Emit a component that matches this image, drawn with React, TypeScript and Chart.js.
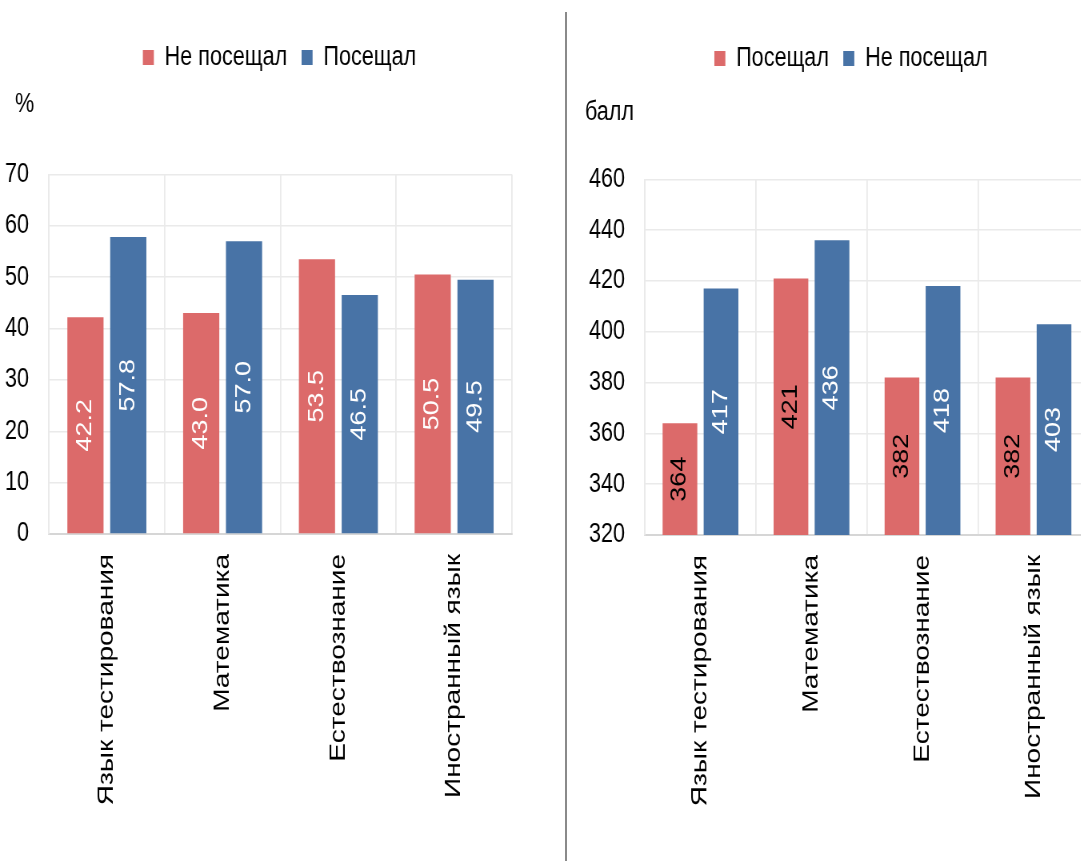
import React, { useEffect, useRef } from 'react';
import { Chart, registerables } from 'chart.js';

Chart.register(...registerables);

// ---------- data ----------
const categories = ['Язык тестирования', 'Математика', 'Естествознание', 'Иностранный язык'];

const leftSeriesNames = ['Не посещал', 'Посещал'];
const leftNotAttended = [42.2, 43.0, 53.5, 50.5];
const leftAttended = [57.8, 57.0, 46.5, 49.5];
const leftTickValues = [0, 10, 20, 30, 40, 50, 60, 70];
const leftUnit = '%';

const rightSeriesNames = ['Посещал', 'Не посещал'];
const rightAttended = [364, 421, 382, 382];
const rightNotAttended = [417, 436, 418, 403];
const rightTickValues = [320, 340, 360, 380, 400, 420, 440, 460];
const rightUnit = 'балл';

// ---------- styles ----------
const RED = '#DC6A6A';
const BLUE = '#4873A6';
const GRID = '#EAEAEA';
const AXIS = '#D6D6D6';
const REG = '"Liberation Sans", Arial, sans-serif';
const S = 0.8; // horizontal squeeze of the whole picture
const H = 861;
const INNER_W = 700;

Chart.defaults.color = '#000';
Chart.defaults.font.family = REG;

function makeExtrasPlugin(decimals: number, labelColors: string[], legendShift: number, titleShift: number) {
  return {
    id: 'panelExtras',
    afterLayout(chart: any) {
      if (chart.legend) {
        chart.legend.left += legendShift;
        chart.legend.right += legendShift;
      }
      if (chart.titleBlock) {
        chart.titleBlock.left += titleShift;
        chart.titleBlock.right += titleShift;
      }
    },
    afterDatasetsDraw(chart: any) {
      const ctx = chart.ctx as CanvasRenderingContext2D;
      const bottom = chart.chartArea.bottom;
      chart.data.datasets.forEach((ds: any, i: number) => {
        const meta = chart.getDatasetMeta(i);
        meta.data.forEach((bar: any, j: number) => {
          const v = ds.data[j] as number;
          const cx = bar.x;
          const cy = (bar.y + Math.min(bar.base, bottom)) / 2;
          ctx.save();
          ctx.translate(cx, cy);
          ctx.rotate(-Math.PI / 2);
          ctx.font = `27px ${REG}`;
          ctx.fillStyle = labelColors[i];
          ctx.textAlign = 'center';
          ctx.textBaseline = 'middle';
          ctx.fillText(v.toFixed(decimals), 0, 0);
          ctx.restore();
        });
      });
    },
  };
}

type PanelProps = {
  pageLeft: number; // page x of panel origin
  seriesNames: string[];
  series: number[][];
  colors: string[];
  labelColors: string[];
  ticks: number[];
  decimals: number;
  unit: string;
  plotLeft: number; // page x
  plotRight: number; // page x
  plotBottom: number; // page y
  titleX: number; // page x
  legendCenter: number; // page x
  padT: number;
  legendPad: number;
  titlePadTop: number;
  titlePadBottom: number;
  tickPadPage: number;
  cp: number;
  bp: number;
};

function Panel(p: PanelProps) {
  const ref = useRef<HTMLCanvasElement | null>(null);
  useEffect(() => {
    if (!ref.current) return;
    const toInner = (px: number) => (px - p.pageLeft) / S;
    const yWidth = toInner(p.plotLeft);
    const plotRightInner = toInner(p.plotRight);
    const padR = INNER_W - plotRightInner;
    const legendShift = toInner(p.legendCenter) - plotRightInner / 2;
    const titleShift = toInner(p.titleX);
    const chart = new Chart(ref.current, {
      type: 'bar',
      data: {
        labels: categories,
        datasets: p.series.map((data, i) => ({
          label: p.seriesNames[i],
          data,
          backgroundColor: p.colors[i],
          borderWidth: 0,
          categoryPercentage: p.cp,
          barPercentage: p.bp,
        })),
      },
      options: {
        animation: false,
        responsive: false,
        maintainAspectRatio: false,
        layout: { padding: { left: 0, right: padR, top: p.padT, bottom: 0 } },
        plugins: {
          legend: {
            position: 'top',
            labels: {
              color: '#000',
              font: { family: REG, size: 27 },
              boxWidth: 11 / S,
              boxHeight: 15,
              padding: p.legendPad,
            },
          },
          title: {
            display: true,
            text: p.unit,
            align: 'start',
            weight: 500,
            color: '#000',
            font: { family: REG, size: 27, weight: 'normal' },
            padding: { top: p.titlePadTop, bottom: p.titlePadBottom },
          },
          tooltip: { enabled: false },
        },
        scales: {
          x: {
            grid: { color: GRID, lineWidth: 1.8, drawTicks: false, offset: true },
            border: { color: AXIS, width: 2 },
            ticks: {
              color: '#000',
              font: { family: REG, size: 28 },
              minRotation: 90,
              maxRotation: 90,
              padding: 20,
              autoSkip: false,
            },
            afterFit: (s: any) => {
              s.height = H - p.plotBottom;
            },
          },
          y: {
            min: p.ticks[0],
            max: p.ticks[p.ticks.length - 1],
            ticks: {
              stepSize: p.ticks[1] - p.ticks[0],
              color: '#000',
              font: { family: REG, size: 27 },
              padding: p.tickPadPage / S,
            },
            grid: { color: GRID, lineWidth: 1.5, drawTicks: false },
            border: { color: GRID, width: 1.8 },
            afterFit: (s: any) => {
              s.width = yWidth;
            },
          },
        },
      } as any,
      plugins: [makeExtrasPlugin(p.decimals, p.labelColors, legendShift, titleShift)],
    });
    let alive = true;
    const fonts = (document as any).fonts;
    if (fonts && fonts.load) {
      fonts
        .load(`27px "Liberation Sans"`)
        .then(() => {
          if (alive) chart.update();
        })
        .catch(() => {});
    }
    return () => {
      alive = false;
      chart.destroy();
    };
  }, []);
  return (
    <div
      style={{
        position: 'absolute',
        left: p.pageLeft,
        top: 0,
        width: INNER_W,
        height: H,
        transform: `scaleX(${S})`,
        transformOrigin: '0 0',
      }}
    >
      <canvas
        ref={ref}
        width={INNER_W}
        height={H}
        style={{ display: 'block', width: INNER_W, height: H }}
      />
    </div>
  );
}

export default function App() {
  return (
    <div
      style={{
        position: 'absolute',
        left: 0,
        top: 0,
        width: 1081,
        height: H,
        overflow: 'hidden',
        background: '#fff',
      }}
    >
      <Panel
        pageLeft={0}
        seriesNames={leftSeriesNames}
        series={[leftNotAttended, leftAttended]}
        colors={[RED, BLUE]}
        labelColors={['#fff', '#fff']}
        ticks={leftTickValues}
        decimals={1}
        unit={leftUnit}
        plotLeft={49}
        plotRight={512}
        plotBottom={534}
        titleX={15}
        legendCenter={279.5}
        padT={26}
        legendPad={18}
        titlePadTop={7}
        titlePadBottom={54}
        tickPadPage={20}
        cp={0.74}
        bp={0.845}
      />
      <div
        style={{
          position: 'absolute',
          left: 565,
          top: 12,
          width: 2,
          height: H - 12,
          background: '#8a8a8a',
        }}
      />
      <Panel
        pageLeft={572}
        seriesNames={rightSeriesNames}
        series={[rightAttended, rightNotAttended]}
        colors={[RED, BLUE]}
        labelColors={['#000', '#fff']}
        ticks={rightTickValues}
        decimals={0}
        unit={rightUnit}
        plotLeft={645}
        plotRight={1089}
        plotBottom={535}
        titleX={585}
        legendCenter={851}
        padT={27}
        legendPad={18}
        titlePadTop={14}
        titlePadBottom={51}
        tickPadPage={20}
        cp={0.74}
        bp={0.845}
      />
    </div>
  );
}
